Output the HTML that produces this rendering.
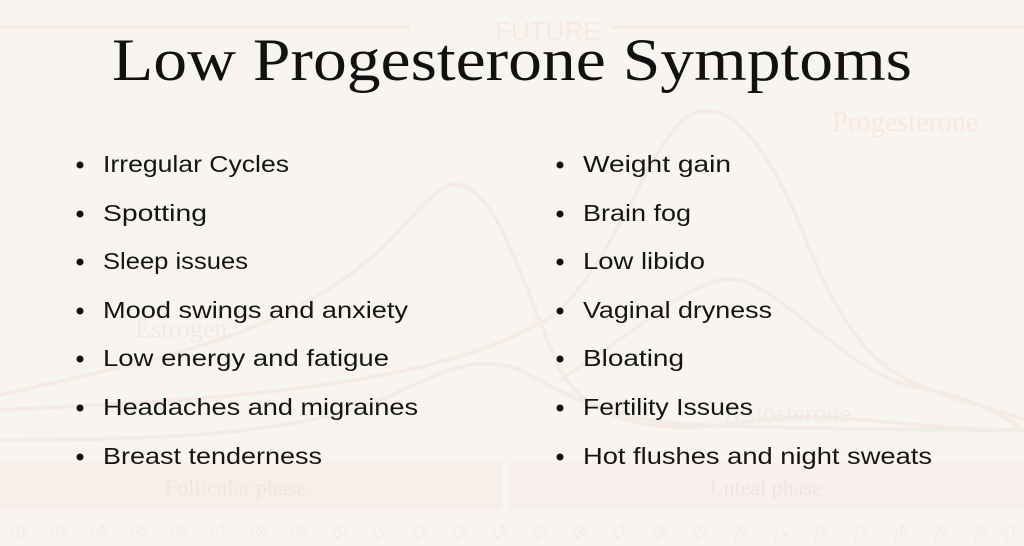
<!DOCTYPE html>
<html><head><meta charset="utf-8"><style>
html,body{margin:0;padding:0;background:#f8f5f1;}
svg{display:block}
</style></head><body>
<svg width="1024" height="546" viewBox="0 0 1024 546" xmlns="http://www.w3.org/2000/svg">
<rect width="1024" height="546" fill="#f8f5f1"/>
<g fill="none" stroke-width="4" opacity="0.5">
<line x1="0" y1="27" x2="410" y2="27" stroke="#f6e1d6"/>
<line x1="612" y1="27" x2="1024" y2="27" stroke="#f6e1d6"/>
<path d="M0,395 C150,360 280,340 380,250 C420,210 440,180 460,185 C500,195 520,280 560,370 C600,440 700,430 760,420 C850,410 900,430 1024,430" stroke="#f5e2d8"/>
<path d="M0,440 C200,440 300,430 380,400 C430,380 470,350 520,370 C560,390 600,420 700,425 C850,430 950,430 1024,430" stroke="#e9e6dc"/>
<path d="M0,410 C200,400 450,390 560,310 C620,250 650,140 690,115 C720,100 760,120 810,250 C860,370 900,380 960,400 C1000,410 1024,420 1024,420" stroke="#f5e2d8"/>
<path d="M560,380 C640,330 700,270 740,280 C800,300 850,380 930,390 C980,400 1010,420 1024,430" stroke="#f4e3da"/>
</g>
<rect x="0" y="462" width="502" height="48" fill="#f8ebe6" opacity="0.6"/>
<rect x="508" y="462" width="516" height="48" fill="#f8ebe6" opacity="0.45"/>
<g font-family="Liberation Serif, serif" fill="#efe5df" font-size="22">
<text x="165" y="495">Follicular phase</text>
<text x="710" y="495">Luteal phase</text>
<text x="135" y="337" fill="#f3e9e3" font-size="26">Estrogen</text>
<text x="720" y="422" fill="#f1ebe5" font-size="26">Testosterone</text>
<text x="832" y="131" fill="#f8e6df" font-size="28">Progesterone</text>
<text x="495" y="40" fill="#f7e9e1" font-size="26" font-family="Liberation Sans, sans-serif">FUTURE</text>
</g>
<g font-family="Liberation Sans, sans-serif" fill="#f2ebe6" font-size="16">
<text transform="translate(14,542) rotate(-30)">02</text><text transform="translate(54,542) rotate(-30)">03</text><text transform="translate(94,542) rotate(-30)">04</text><text transform="translate(134,542) rotate(-30)">05</text><text transform="translate(174,542) rotate(-30)">06</text><text transform="translate(214,542) rotate(-30)">07</text><text transform="translate(254,542) rotate(-30)">08</text><text transform="translate(294,542) rotate(-30)">09</text><text transform="translate(334,542) rotate(-30)">10</text><text transform="translate(374,542) rotate(-30)">11</text><text transform="translate(414,542) rotate(-30)">12</text><text transform="translate(454,542) rotate(-30)">13</text><text transform="translate(494,542) rotate(-30)">14</text><text transform="translate(534,542) rotate(-30)">15</text><text transform="translate(574,542) rotate(-30)">16</text><text transform="translate(614,542) rotate(-30)">17</text><text transform="translate(654,542) rotate(-30)">18</text><text transform="translate(694,542) rotate(-30)">19</text><text transform="translate(734,542) rotate(-30)">20</text><text transform="translate(774,542) rotate(-30)">21</text><text transform="translate(814,542) rotate(-30)">22</text><text transform="translate(854,542) rotate(-30)">23</text><text transform="translate(894,542) rotate(-30)">24</text><text transform="translate(934,542) rotate(-30)">25</text><text transform="translate(974,542) rotate(-30)">26</text><text transform="translate(1004,542) rotate(-30)">27</text>
</g>
<text x="112" y="80" font-family="Liberation Serif, serif" font-size="60" fill="#111" textLength="800" lengthAdjust="spacingAndGlyphs">Low Progesterone Symptoms</text>
<g fill="#111">
<circle cx="80" cy="165" r="3.5"/><circle cx="80" cy="214" r="3.5"/><circle cx="80" cy="262" r="3.5"/><circle cx="80" cy="311" r="3.5"/><circle cx="80" cy="359" r="3.5"/><circle cx="80" cy="408" r="3.5"/><circle cx="80" cy="457" r="3.5"/>
<circle cx="560" cy="165" r="3.5"/><circle cx="560" cy="214" r="3.5"/><circle cx="560" cy="262" r="3.5"/><circle cx="560" cy="311" r="3.5"/><circle cx="560" cy="359" r="3.5"/><circle cx="560" cy="408" r="3.5"/><circle cx="560" cy="457" r="3.5"/>
</g>
<g font-family="Liberation Sans, sans-serif" font-size="23" fill="#151515">
<text x="103" y="172" textLength="186" lengthAdjust="spacingAndGlyphs">Irregular Cycles</text>
<text x="103" y="221" textLength="104" lengthAdjust="spacingAndGlyphs">Spotting</text>
<text x="103" y="269" textLength="145" lengthAdjust="spacingAndGlyphs">Sleep issues</text>
<text x="103" y="318" textLength="305" lengthAdjust="spacingAndGlyphs">Mood swings and anxiety</text>
<text x="103" y="366" textLength="286" lengthAdjust="spacingAndGlyphs">Low energy and fatigue</text>
<text x="103" y="415" textLength="315" lengthAdjust="spacingAndGlyphs">Headaches and migraines</text>
<text x="103" y="464" textLength="219" lengthAdjust="spacingAndGlyphs">Breast tenderness</text>
<text x="583" y="172" textLength="148" lengthAdjust="spacingAndGlyphs">Weight gain</text>
<text x="583" y="221" textLength="108" lengthAdjust="spacingAndGlyphs">Brain fog</text>
<text x="583" y="269" textLength="122" lengthAdjust="spacingAndGlyphs">Low libido</text>
<text x="583" y="318" textLength="189" lengthAdjust="spacingAndGlyphs">Vaginal dryness</text>
<text x="583" y="366" textLength="101" lengthAdjust="spacingAndGlyphs">Bloating</text>
<text x="583" y="415" textLength="170" lengthAdjust="spacingAndGlyphs">Fertility Issues</text>
<text x="583" y="464" textLength="349" lengthAdjust="spacingAndGlyphs">Hot flushes and night sweats</text>
</g>
</svg>
</body></html>
